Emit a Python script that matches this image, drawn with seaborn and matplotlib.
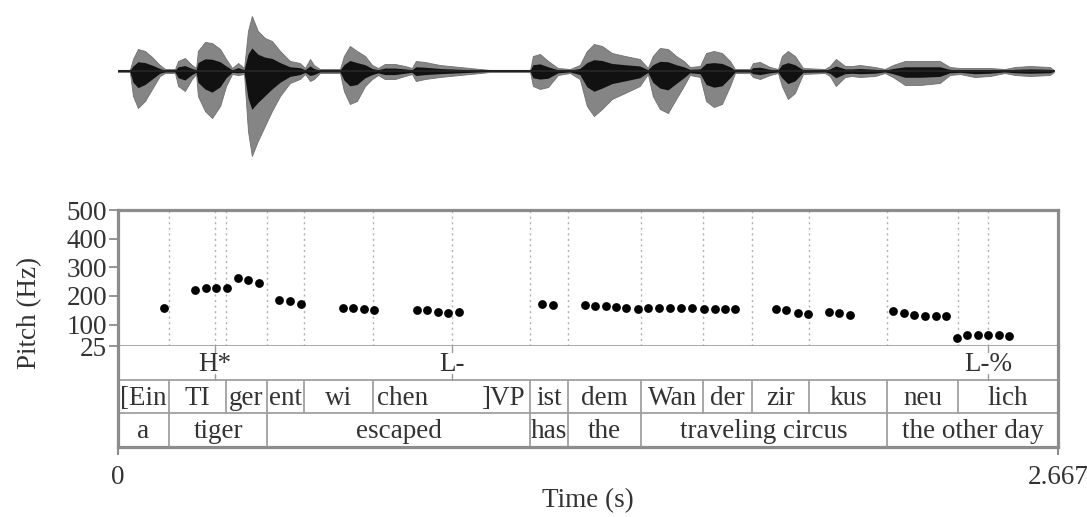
import numpy as np
import pandas as pd
import matplotlib
matplotlib.use("Agg")
import matplotlib.pyplot as plt
import seaborn as sns

# ---------------- data ----------------
DURATION = 2.667

# waveform envelope (time s, upper amplitude, lower amplitude; arbitrary units)
wave_t = [0.000, 0.035, 0.044, 0.058, 0.078, 0.098, 0.120, 0.135, 0.163, 0.172,
          0.191, 0.211, 0.223, 0.228, 0.248, 0.268, 0.291, 0.308, 0.325, 0.342,
          0.359, 0.370, 0.381, 0.398, 0.418, 0.438, 0.461, 0.489, 0.517, 0.532,
          0.546, 0.557, 0.574, 0.631, 0.642, 0.659, 0.679, 0.702, 0.722, 0.739,
          0.758, 0.787, 0.815, 0.835, 0.846, 0.872, 0.914, 0.971, 1.028, 1.056,
          1.170, 1.178, 1.198, 1.221, 1.249, 1.283, 1.311, 1.331, 1.351, 1.374,
          1.402, 1.439, 1.481, 1.504, 1.518, 1.538, 1.561, 1.584, 1.606, 1.623,
          1.652, 1.669, 1.691, 1.714, 1.737, 1.751, 1.793, 1.802, 1.822, 1.850,
          1.873, 1.884, 1.901, 1.921, 1.944, 2.006, 2.020, 2.037, 2.063, 2.083,
          2.105, 2.148, 2.176, 2.199, 2.233, 2.275, 2.332, 2.360, 2.389, 2.431,
          2.474, 2.516, 2.545, 2.587, 2.644, 2.655]
wave_up = [1, 1, 12, 22, 20, 14, 6, 2, 2, 10,
           13, 6, 3, 20, 29, 28, 22, 12, 3, 8,
           3, 40, 55, 40, 33, 30, 20, 10, 8, 3,
           12, 6, 2, 2, 15, 25, 20, 15, 6, 3,
           7, 7, 5, 3, 10, 9, 6, 4, 2, 1,
           1, 15, 17, 10, 3, 2, 6, 20, 27, 25,
           18, 15, 12, 3, 15, 23, 22, 15, 10, 4,
           5, 18, 20, 18, 10, 2, 2, 8, 9, 4,
           2, 15, 20, 15, 3, 2, 5, 12, 5, 5,
           6, 4, 2, 6, 10, 10, 10, 4, 3, 3,
           3, 2, 4, 5, 4, 1]
wave_lo = [1, 1, 25, 37, 30, 18, 5, 2, 2, 15,
           20, 8, 3, 25, 40, 47, 35, 15, 3, 4,
           3, 60, 85, 70, 55, 40, 25, 12, 8, 3,
           10, 8, 2, 2, 20, 33, 30, 15, 8, 4,
           8, 8, 5, 3, 10, 8, 6, 4, 2, 1,
           1, 15, 18, 16, 4, 2, 8, 35, 45, 38,
           28, 22, 15, 3, 25, 38, 42, 28, 15, 4,
           6, 30, 36, 33, 15, 2, 2, 6, 8, 4,
           2, 15, 28, 22, 3, 2, 5, 15, 6, 5,
           6, 5, 2, 6, 14, 14, 12, 4, 3, 6,
           5, 2, 4, 5, 4, 1]

# pitch track (time s, Hz)
pitch_t = [0.132, 0.220, 0.250, 0.279, 0.310, 0.341, 0.371, 0.401, 0.459, 0.489,
           0.520, 0.639, 0.668, 0.698, 0.727, 0.848, 0.878, 0.908, 0.938, 0.967,
           1.204, 1.235, 1.325, 1.355, 1.384, 1.414, 1.443, 1.475, 1.505, 1.536,
           1.567, 1.599, 1.630, 1.662, 1.693, 1.722, 1.750, 1.868, 1.897, 1.929,
           1.958, 2.017, 2.047, 2.078, 2.198, 2.229, 2.259, 2.290, 2.320, 2.350,
           2.380, 2.409, 2.439, 2.469, 2.499, 2.529]
pitch_hz = [159, 222, 228, 229, 228, 261, 254, 245, 184, 182,
            172, 156, 156, 155, 149, 152, 149, 145, 141, 144,
            173, 169, 168, 165, 163, 160, 158, 155, 157, 157,
            157, 157, 157, 155, 155, 155, 153, 154, 149, 142,
            138, 145, 142, 135, 147, 140, 135, 131, 129, 129,
            54, 63, 64, 64, 63, 60]

# tiers
tone_t = [0.276, 0.948, 2.468]
tone_labels = ["H*", "L-", "L-%"]

syll_bounds = [0.0, 0.147, 0.307, 0.423, 0.529, 0.725, 1.171, 1.277, 1.484,
               1.661, 1.800, 1.961, 2.183, 2.384, 2.667]
syll_labels = ["[Ein", "TI", "ger", "ent", "wi", "chen||]VP", "ist", "dem",
               "Wan", "der", "zir", "kus", "neu", "lich"]

word_bounds = [0.0, 0.147, 0.423, 1.171, 1.277, 1.484, 2.183, 2.667]
word_labels = ["a", "tiger", "escaped", "has", "the", "traveling circus",
               "the other day"]

y_ticks = [25, 100, 200, 300, 400, 500]
x_ticks = [0, 2.667]
x_tick_labels = ["0", "2.667"]

# ---------------- style ----------------
sns.set_theme(style="white")
plt.rcParams["font.family"] = ["Liberation Serif", "DejaVu Serif"]
FS = 19.5
TXT = "#333333"
FRAME = "#8c8c8c"
LINE = "#a0a0a0"
W, H = 1087, 517

fig = plt.figure(figsize=(W / 100, H / 100), dpi=100)

def rect(x0, y0, x1, y1):
    return [x0 / W, 1 - y1 / H, (x1 - x0) / W, (y1 - y0) / H]

X0, X1 = 117.5, 1058.0

# waveform
axw = fig.add_axes(rect(X0, 5, X1, 165))
wdf = pd.DataFrame({"t": wave_t, "up": wave_up, "lo": wave_lo})
axw.fill_between(wdf["t"], wdf["up"], -wdf["lo"], color="#858585", lw=0.6,
                 edgecolor="#707070")
axw.fill_between(wdf["t"], 0.42 * wdf["up"], -0.45 * wdf["lo"], color="#111111",
                 lw=0)
sns.lineplot(x=wdf["t"], y=np.zeros(len(wdf)), ax=axw, color="#222222", lw=1.5)
axw.set_xlim(0, DURATION)
axw.set_ylim(-94, 66)
axw.axis("off")

# pitch panel
axp = fig.add_axes(rect(X0, 210, X1, 346))
pdf = pd.DataFrame({"t": pitch_t, "hz": pitch_hz})
all_lines = sorted(syll_bounds[1:-1] + tone_t)
for b in all_lines:
    axp.axvline(b, color="#b0b0b0", lw=1.0, ls=(0, (1.5, 2.5)), zorder=1)
sns.scatterplot(data=pdf, x="t", y="hz", ax=axp, color="black", s=40,
                linewidth=0, zorder=3, legend=False)
axp.set_xlim(0, DURATION)
axp.set_ylim(25, 500)
axp.set_yticks(y_ticks)
axp.set_yticklabels([str(v) for v in y_ticks], fontsize=FS, color=TXT)
axp.set_xticks([])
axp.set_xlabel("")
axp.set_ylabel("")
axp.tick_params(axis="y", left=True, length=6.5, width=1.3, color=FRAME, pad=1)
for s in ["left", "top", "right"]:
    axp.spines[s].set_color(FRAME)
    axp.spines[s].set_linewidth(2.3)
axp.spines["bottom"].set_color(LINE)
axp.spines["bottom"].set_linewidth(1.3)

# tiers panel
axt = fig.add_axes(rect(X0, 346, X1, 447))
axt.set_xlim(0, DURATION)
axt.set_ylim(0, 3)
axt.set_yticks([])
axt.set_xticks(x_ticks)
axt.set_xticklabels(x_tick_labels, fontsize=FS, color=TXT)
axt.tick_params(axis="x", bottom=True, length=6, width=1.5, color=FRAME, pad=7)
for s in ["left", "bottom", "right"]:
    axt.spines[s].set_color(FRAME)
    axt.spines[s].set_linewidth(2.3)
axt.spines["top"].set_visible(False)
axt.axhline(1, color=LINE, lw=1.3)
axt.axhline(2, color=LINE, lw=1.3)

BASE = 0.26
# tone tier (row 2)
for t, lab in zip(tone_t, tone_labels):
    axt.text(t, 2 + BASE, lab, ha="center", va="baseline", fontsize=FS, color=TXT)
    axt.plot([t, t], [2.82, 3.0], color="#9a9a9a", lw=1.0)
    axt.plot([t, t], [2.0, 2.18], color="#9a9a9a", lw=1.0)

# syllable tier (row 1)
for b in syll_bounds[1:-1]:
    axt.plot([b, b], [1, 2], color=LINE, lw=1.3)
for i, lab in enumerate(syll_labels):
    a, b = syll_bounds[i], syll_bounds[i + 1]
    if "||" in lab:
        left, right = lab.split("||")
        axt.text(a + 0.01, 1 + BASE, left, ha="left", va="baseline",
                 fontsize=FS, color=TXT)
        axt.text(b - 0.015, 1 + BASE, right, ha="right", va="baseline",
                 fontsize=FS, color=TXT)
    else:
        axt.text((a + b) / 2, 1 + BASE, lab, ha="center", va="baseline",
                 fontsize=FS, color=TXT)

# word tier (row 0)
for b in word_bounds[1:-1]:
    axt.plot([b, b], [0, 1], color=LINE, lw=1.3)
for i, lab in enumerate(word_labels):
    a, b = word_bounds[i], word_bounds[i + 1]
    axt.text((a + b) / 2, BASE, lab, ha="center", va="baseline",
             fontsize=FS, color=TXT)

fig.text(587.5 / W, 1 - 501 / H, "Time (s)", ha="center", va="center",
         fontsize=FS, color=TXT)
fig.text(30 / W, 1 - 313 / H, "Pitch (Hz)", ha="center", va="center",
         rotation=90, fontsize=FS, color=TXT)

fig.savefig("out.png", dpi=100)
